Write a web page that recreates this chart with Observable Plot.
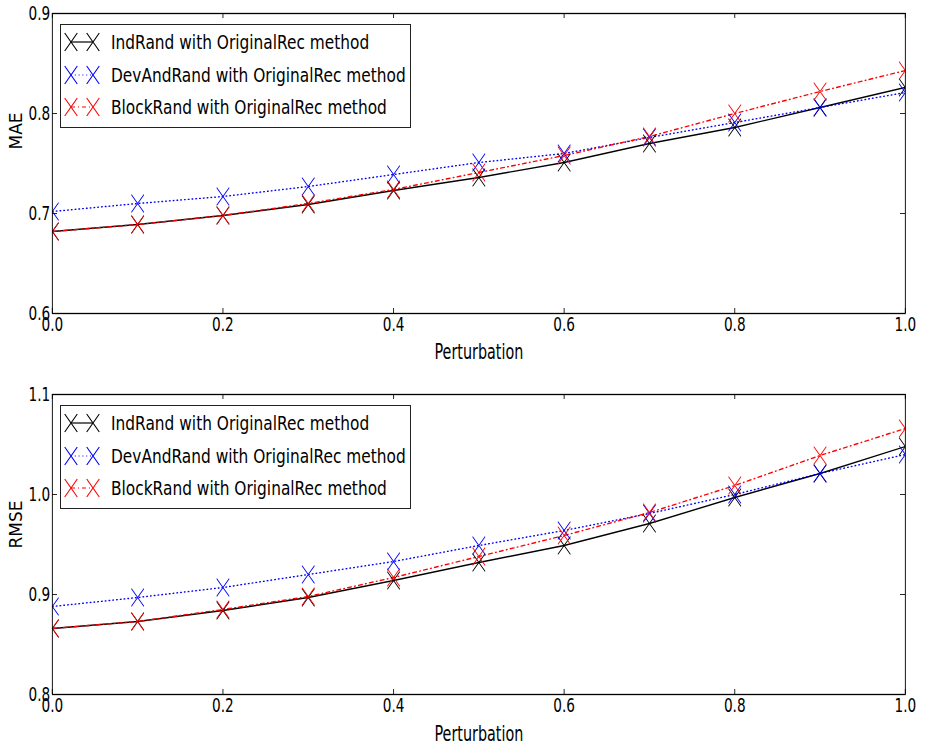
<!DOCTYPE html>
<html>
<head>
<meta charset="utf-8">
<script src="https://cdn.jsdelivr.net/npm/d3@7"></script>
<script src="https://cdn.jsdelivr.net/npm/@observablehq/plot@0.6"></script>
<style>
  body { margin: 0; background: #fff; }
  #wrap { position: relative; width: 926px; height: 746px; font-family: "DejaVu Sans", sans-serif; overflow: hidden; }
  .panel { position: absolute; left: 0; width: 926px; height: 373px; }
  .panel svg { display: block; }
  .legend { position: absolute; left: 60px; width: 349px; height: 102px; border: 1px solid #222; background: #fff; }
  .row { position: absolute; left: 0; height: 24px; width: 349px; }
  .row svg { position: absolute; left: 0; top: 0; }
  .row span { position: absolute; left: 50px; top: 0; line-height: 24px; font-size: 19px; white-space: nowrap;
              transform: scaleX(0.81); transform-origin: left center; color: #000; }
</style>
</head>
<body>
<div id="wrap">
  <div id="top" class="panel" style="top:0px"></div>
  <div id="bottom" class="panel" style="top:373px"></div>
</div>
<script>
// ---- data ----
const perturbation = [0.0, 0.1, 0.2, 0.3, 0.4, 0.5, 0.6, 0.7, 0.8, 0.9, 1.0];
const seriesNames = ["IndRand with OriginalRec method", "DevAndRand with OriginalRec method", "BlockRand with OriginalRec method"];
const seriesColors = ["#000000", "#0000ff", "#ff0000"];

const maeIndRand   = [0.682, 0.689, 0.698, 0.709, 0.723, 0.736, 0.751, 0.770, 0.786, 0.806, 0.826];
const maeDevAndRand = [0.702, 0.710, 0.717, 0.727, 0.739, 0.751, 0.760, 0.776, 0.791, 0.806, 0.821];
const maeBlockRand = [0.682, 0.689, 0.698, 0.710, 0.724, 0.741, 0.758, 0.777, 0.800, 0.822, 0.843];

const rmseIndRand   = [0.866, 0.873, 0.884, 0.897, 0.914, 0.932, 0.949, 0.971, 0.997, 1.021, 1.048];
const rmseDevAndRand = [0.888, 0.897, 0.907, 0.920, 0.933, 0.949, 0.964, 0.981, 1.000, 1.021, 1.040];
const rmseBlockRand = [0.866, 0.873, 0.885, 0.898, 0.917, 0.938, 0.959, 0.982, 1.009, 1.039, 1.066];

const xTicks = [0.0, 0.2, 0.4, 0.6, 0.8, 1.0];
const maeTicks = [0.6, 0.7, 0.8, 0.9];
const rmseTicks = [0.8, 0.9, 1.0, 1.1];
const xLabel = "Perturbation";

// ---- styling ----
const K = 0.7;                       // horizontal squeeze of the original figure
const W = 926 / K;
const ML = 52 / K, MR = 21 / K;
const plotW = W - ML - MR;
const dashes = [null, "1.4,4", "5.7,4.3,1.4,4.3"];
const fmt = d3.format(".1f");

function rowsOf(lists) {
  const rows = [];
  lists.forEach((vals, s) => vals.forEach((v, i) => rows.push({x: perturbation[i], y: v, s})));
  return rows;
}

function panel(lists, yDomain, yTicks, yLabel, marginTop, marginBottom, xLabelDy, yLabelDy) {
  const H = 373;
  const plotH = H - marginTop - marginBottom;
  const rows = rowsOf(lists);
  const marks = [];
  lists.forEach((_, s) => {
    marks.push(Plot.line(rows.filter(r => r.s === s), {
      x: "x", y: "y", stroke: seriesColors[s], strokeWidth: 1.4,
      strokeDasharray: dashes[s], clip: true
    }));
  });
  lists.forEach((_, s) => {
    marks.push(Plot.dot(rows.filter(r => r.s === s), {
      x: "x", y: "y", symbol: "times", r: 8.2, stroke: seriesColors[s], strokeWidth: 1.1, clip: true
    }));
  });
  marks.push(
    Plot.tickX(xTicks, {x: d => d, insetTop: plotH - 5, stroke: "#000"}),
    Plot.tickX(xTicks, {x: d => d, insetBottom: plotH - 5, stroke: "#000"}),
    Plot.tickY(yTicks, {y: d => d, insetRight: plotW - 5 / K, stroke: "#000"}),
    Plot.tickY(yTicks, {y: d => d, insetLeft: plotW - 5 / K, stroke: "#000"}),
    Plot.axisX(xTicks, {tickSize: 0, tickPadding: 4, tickFormat: fmt, label: null, fontSize: 19.5}),
    Plot.axisY(yTicks, {tickSize: 0, tickPadding: 3, tickFormat: fmt, label: null, fontSize: 19.5}),
    Plot.frame({stroke: "#000", strokeWidth: 1.3}),
    Plot.text([xLabel], {text: d => d, frameAnchor: "bottom", dy: xLabelDy, lineAnchor: "middle", fontSize: 20.5}),
    Plot.text([yLabel], {text: d => d, frameAnchor: "left", dx: -(52 - 16) / K, dy: yLabelDy, rotate: -90, lineAnchor: "middle", fontSize: 17})
  );
  const svg = Plot.plot({
    width: W, height: H,
    marginTop, marginBottom, marginLeft: ML, marginRight: MR,
    x: {domain: [0, 1]},
    y: {domain: yDomain},
    style: {fontFamily: "DejaVu Sans", fontSize: "18px", color: "#000", background: "#fff", overflow: "visible"},
    marks
  });
  svg.setAttribute("preserveAspectRatio", "none");
  svg.setAttribute("width", 926);
  svg.style.width = "926px";
  svg.style.height = H + "px";
  svg.style.maxWidth = "none";
  // undo the horizontal squeeze on the rotated y label so its glyphs keep their shape
  svg.querySelectorAll("text").forEach(t => {
    if (t.textContent === yLabel) {
      const g = t.getAttribute("transform");
      if (g && g.includes("rotate(-90)")) t.setAttribute("transform", g.replace("rotate(-90)", `scale(${1 / K},1) rotate(-90)`));
    }
  });
  return svg;
}

function legend(top) {
  const box = document.createElement("div");
  box.className = "legend";
  box.style.top = top + "px";
  seriesNames.forEach((name, s) => {
    const row = document.createElement("div");
    row.className = "row";
    row.style.top = (17 + s * 32.5 - 12) + "px";
    const ns = "http://www.w3.org/2000/svg";
    const sw = document.createElementNS(ns, "svg");
    sw.setAttribute("width", 48); sw.setAttribute("height", 24);
    const line = document.createElementNS(ns, "line");
    line.setAttribute("x1", 10); line.setAttribute("x2", 32);
    line.setAttribute("y1", 12); line.setAttribute("y2", 12);
    line.setAttribute("stroke", seriesColors[s]); line.setAttribute("stroke-width", 1.2);
    const legDash = [null, "1,2.8", "4,3,1,3"][s];
    if (legDash) line.setAttribute("stroke-dasharray", legDash);
    sw.appendChild(line);
    [10, 32].forEach(cx => {
      const p = document.createElementNS(ns, "path");
      p.setAttribute("d", `M${cx - 6.3},${12 - 9}L${cx + 6.3},${12 + 9}M${cx - 6.3},${12 + 9}L${cx + 6.3},${12 - 9}`);
      p.setAttribute("stroke", seriesColors[s]); p.setAttribute("stroke-width", 1.1); p.setAttribute("fill", "none");
      sw.appendChild(p);
    });
    row.appendChild(sw);
    const t = document.createElement("span");
    t.textContent = name;
    row.appendChild(t);
    box.appendChild(row);
  });
  return box;
}

document.getElementById("top").appendChild(
  panel([maeIndRand, maeDevAndRand, maeBlockRand], [0.6, 0.9], maeTicks, "MAE", 13, 60, 39, -14));
document.getElementById("bottom").appendChild(
  panel([rmseIndRand, rmseDevAndRand, rmseBlockRand], [0.8, 1.1], rmseTicks, "RMSE", 21, 52, 40, 4));
const wrap = document.getElementById("wrap");
wrap.appendChild(legend(24));
wrap.appendChild(legend(405));
</script>
</body>
</html>
